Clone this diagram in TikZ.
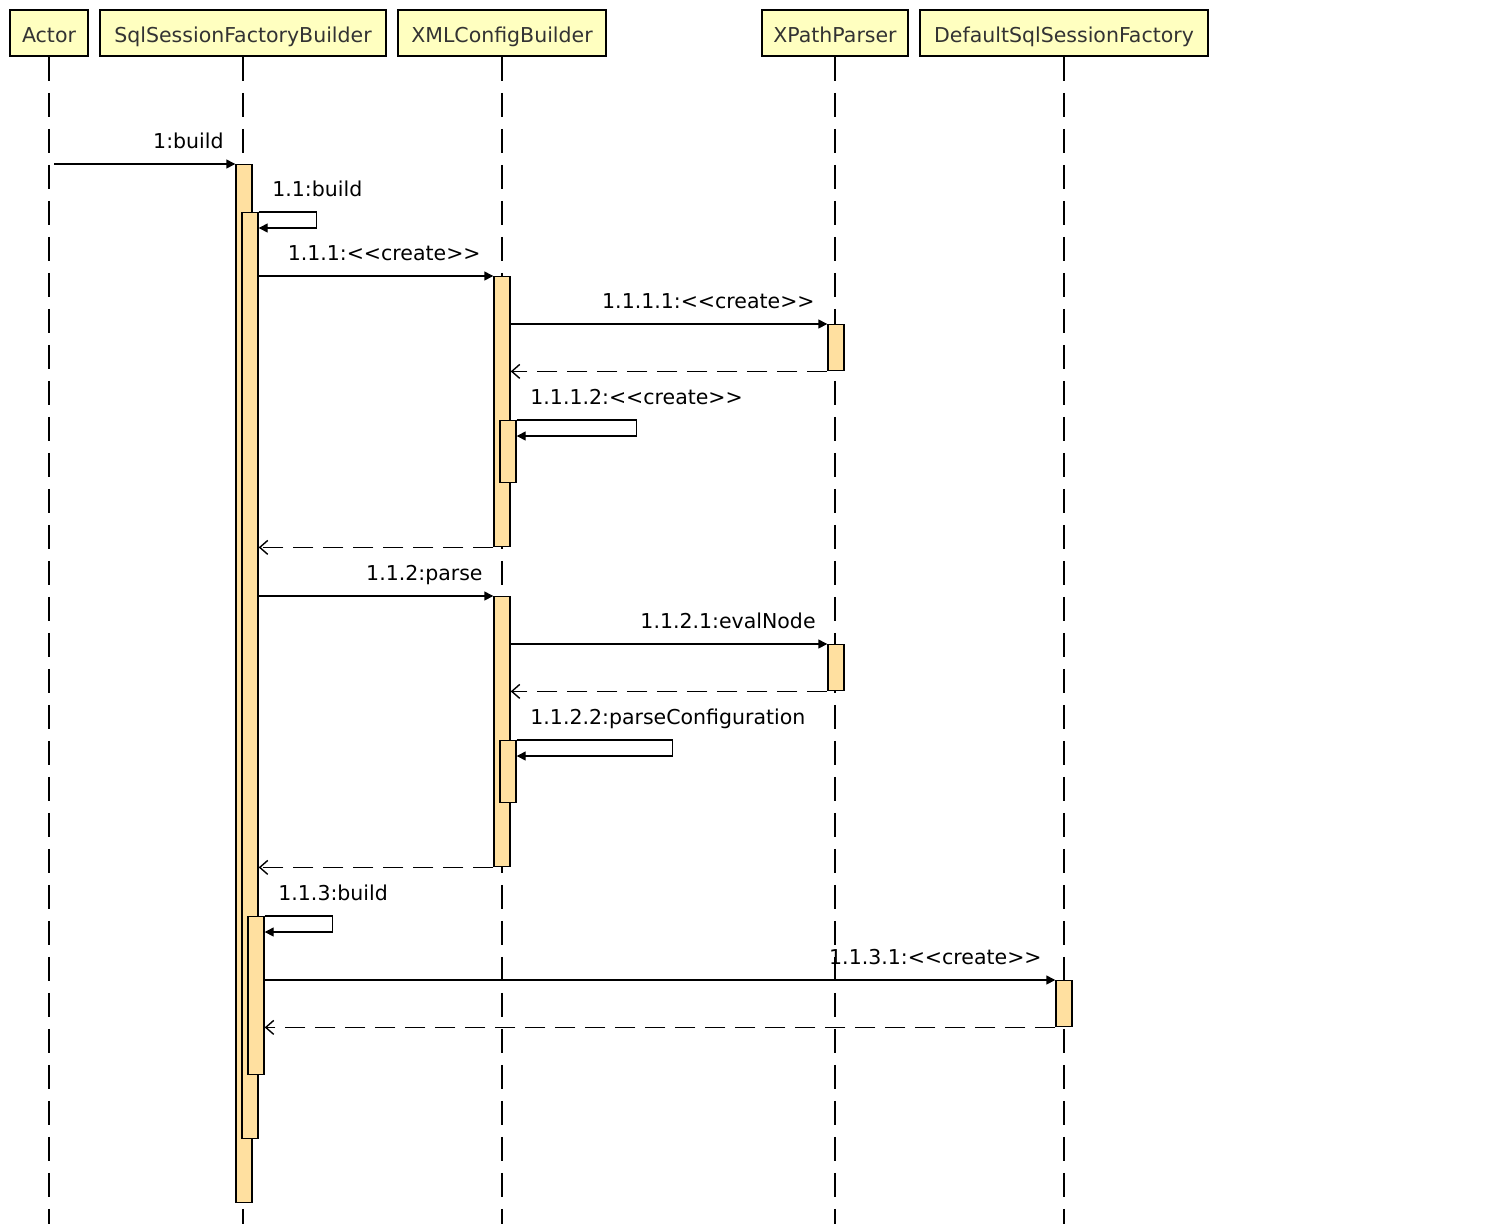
\documentclass[tikz,border=0pt]{standalone}
\usepackage{fontspec}
\setmainfont{DejaVu Sans}
\usepackage{tikz}
\usetikzlibrary{arrows.meta, calc}
\definecolor{headyellow}{HTML}{FFFFC0}
\definecolor{actorange}{HTML}{FFE0A0}
\definecolor{headtext}{HTML}{333333}
\newcommand\stereo[1]{<\kern0pt<#1>\kern0pt>}

\begin{document}
\begin{tikzpicture}[x=1pt, y=-1pt,
  head/.style={rectangle, draw=black, line width=1.6pt, fill=headyellow,
    minimum height=46pt, inner sep=0pt, text=headtext, text height=18pt,
    text depth=0pt, font=\fontsize{20.5}{24}\selectfont},
  life/.style={line width=1.4pt, dash pattern=on 24pt off 12pt},
  act/.style={rectangle, draw=black, line width=1.4pt, fill=actorange,
    minimum width=16pt, inner sep=0pt, anchor=north},
  call/.style={-{Triangle[length=9pt, width=9pt]}, line width=1.4pt},
  ret/.style={-{Straight Barb[length=8pt, width=14pt]}, line width=1.4pt,
    dash pattern=on 20pt off 10pt},
  msg/.style={font=\fontsize{20.5}{24}\selectfont, inner sep=0pt}
]
  \useasboundingbox (0,0) rectangle (1510,1224);

  % Participants
  \node[head, minimum width=78pt]  (actor)   at (49,33)   {Actor};
  \node[head, minimum width=286pt] (sfb)     at (243,33)  {SqlSessionFactoryBuilder};
  \node[head, minimum width=208pt] (xml)     at (502,33)  {XMLConfigBuilder};
  \node[head, minimum width=146pt] (xpath)   at (835,33)  {XPathParser};
  \node[head, minimum width=288pt] (default) at (1064,33) {DefaultSqlSessionFactory};

  % Lifelines
  \foreach \p in {actor, sfb, xml, xpath, default}
    \draw[life] (\p.south) -- (\p.south |- 0,1224);

  % Activations
  \node[act, minimum height=1038pt] (sfb0)  at (244,164)  {};
  \node[act, minimum height=926pt]  (sfb1)  at (250,212)  {};
  \node[act, minimum height=158pt]  (sfb2)  at (256,916)  {};
  \node[act, minimum height=270pt]  (xml1)  at (502,276)  {};
  \node[act, minimum height=62pt]   (xml1a) at (508,420)  {};
  \node[act, minimum height=46pt]   (xp1)   at (836,324)  {};
  \node[act, minimum height=270pt]  (xml2)  at (502,596)  {};
  \node[act, minimum height=62pt]   (xml2a) at (508,740)  {};
  \node[act, minimum height=46pt]   (xp2)   at (836,644)  {};
  \node[act, minimum height=46pt]   (dsf)   at (1064,980) {};

  % Messages
  \draw[call] ($(actor.south |- sfb0.north)+(5,0)$) -- (sfb0.north west)
    node[msg, anchor=base east, xshift=-11pt, yshift=16pt] {1:build};
  \draw[call] (sfb1.north east)
    node[msg, anchor=base west, xshift=13pt, yshift=16pt] {1.1:build}
    -- ++(58,0) -- ++(0,16) -- ($(sfb1.north east)+(0,16)$);
  \draw[call] (sfb1.east |- xml1.north) -- (xml1.north west)
    node[msg, anchor=base east, xshift=-12pt, yshift=16pt] {1.1.1:\stereo{create}};
  \draw[call] (xml1.east |- xp1.north) -- (xp1.north west)
    node[msg, anchor=base east, xshift=-12pt, yshift=16pt] {1.1.1.1:\stereo{create}};
  \draw[ret] (xp1.south west) -- (xml1.east |- xp1.south);
  \draw[call] (xml1a.north east)
    node[msg, anchor=base west, xshift=13pt, yshift=16pt] {1.1.1.2:\stereo{create}}
    -- ++(120,0) -- ++(0,16) -- ($(xml1a.north east)+(0,16)$);
  \draw[ret] (xml1.south west) -- (sfb1.east |- xml1.south);
  \draw[call] (sfb1.east |- xml2.north) -- (xml2.north west)
    node[msg, anchor=base east, xshift=-10pt, yshift=16pt] {1.1.2:parse};
  \draw[call] (xml2.east |- xp2.north) -- (xp2.north west)
    node[msg, anchor=base east, xshift=-11pt, yshift=16pt] {1.1.2.1:evalNode};
  \draw[ret] (xp2.south west) -- (xml2.east |- xp2.south);
  \draw[call] (xml2a.north east)
    node[msg, anchor=base west, xshift=13pt, yshift=16pt] {1.1.2.2:parseConfiguration}
    -- ++(156,0) -- ++(0,16) -- ($(xml2a.north east)+(0,16)$);
  \draw[ret] (xml2.south west) -- (sfb1.east |- xml2.south);
  \draw[call] (sfb2.north east)
    node[msg, anchor=base west, xshift=13pt, yshift=16pt] {1.1.3:build}
    -- ++(68,0) -- ++(0,16) -- ($(sfb2.north east)+(0,16)$);
  \draw[call] (sfb2.east |- dsf.north) -- (dsf.north west)
    node[msg, anchor=base east, xshift=-13pt, yshift=16pt] {1.1.3.1:\stereo{create}};
  \draw[ret] (dsf.south west) -- (sfb2.east |- dsf.south);
\end{tikzpicture}
\end{document}
